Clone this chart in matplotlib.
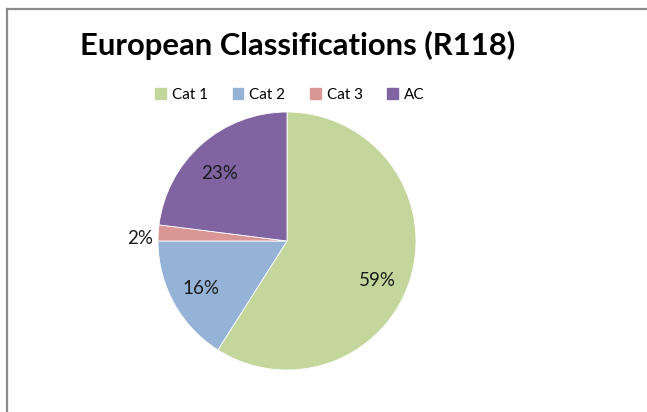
import matplotlib
matplotlib.use("Agg")
import matplotlib.pyplot as plt
from matplotlib.lines import Line2D
import numpy as np

categories = ["Cat 1", "Cat 2", "Cat 3", "AC"]
values = [59, 16, 2, 23]
colors = ["#C3D69B", "#95B3D7", "#D99694", "#8064A2"]
title = "European Classifications (R118)"

W, H = 647, 412
fig = plt.figure(figsize=(W / 100, H / 100), dpi=100)
fig.patch.set_facecolor("white")

# frame lines (left and top)
fig.add_artist(Line2D([6.5 / W, 6.5 / W], [0, 1 - 8.5 / H], transform=fig.transFigure,
                      color="#8c8c8c", lw=1.6))
fig.add_artist(Line2D([6.5 / W, 1.0], [1 - 8.5 / H, 1 - 8.5 / H], transform=fig.transFigure,
                      color="#8c8c8c", lw=1.6))

cx, cy, r = 287, 241, 129
ax = fig.add_axes([(cx - r) / W, (H - cy - r) / H, 2 * r / W, 2 * r / H])
ax.set_aspect("equal")

wedges, texts, autotexts = ax.pie(
    values, colors=colors, startangle=90, counterclock=False,
    autopct=lambda p: f"{p:.0f}%", pctdistance=0.75,
    wedgeprops=dict(edgecolor="white", linewidth=0.6),
    textprops=dict(fontsize=13.5, color="#1a1a1a", family="Lato"),
)
ax.set_xlim(-1, 1)
ax.set_ylim(-1, 1)

# custom label placement (Excel best-fit style)
label_pos = [(0.70, -0.31), (-0.67, -0.37), (-1.14, 0.02), (-0.52, 0.52)]
for t, (x, y) in zip(autotexts, label_pos):
    t.set_position((x, y))
    t.set_clip_on(False)

fig.text(298 / W, 1 - 45 / H, title, ha="center", va="center",
         fontsize=22.3, fontweight="bold", family="Lato", color="black")

handles = [plt.Rectangle((0, 0), 1, 1, color=c) for c in colors]
fig.legend(handles, categories, loc="center", bbox_to_anchor=(290 / W, 1 - 95 / H),
           ncol=4, frameon=False, handlelength=0.7, handleheight=0.7,
           handletextpad=0.4, columnspacing=1.6, prop=dict(family="Lato", size=11))

fig.savefig("out.png", dpi=100, facecolor="white")
